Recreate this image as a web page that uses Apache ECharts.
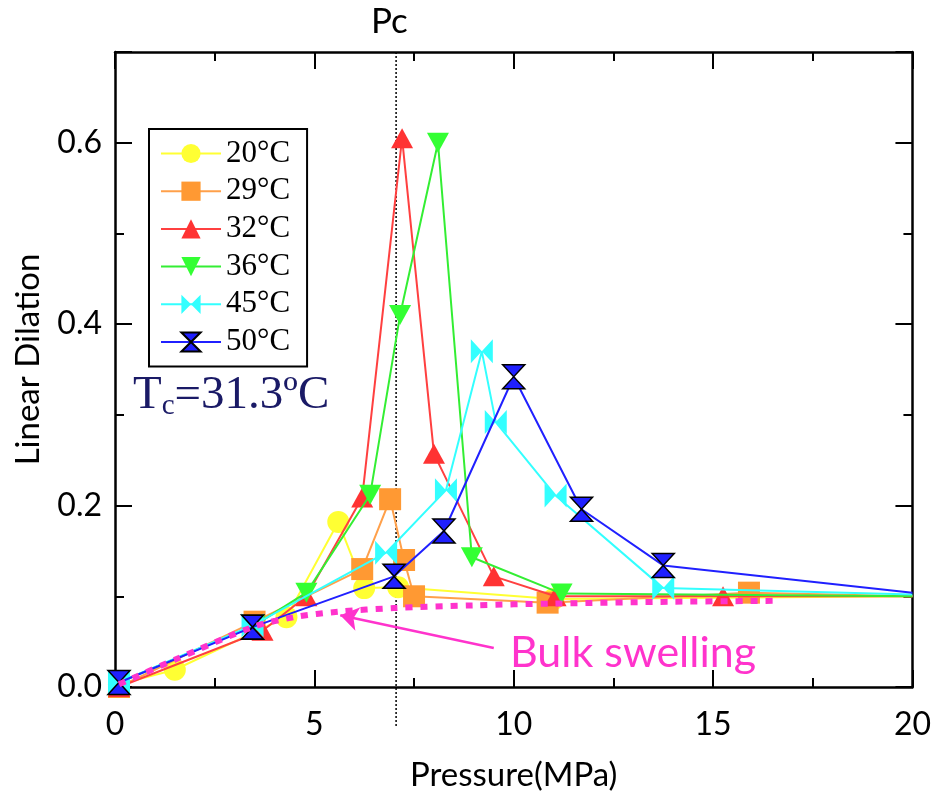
<!DOCTYPE html>
<html>
<head>
<meta charset="utf-8">
<script src="https://cdn.jsdelivr.net/npm/echarts@6/dist/echarts.min.js"></script>
<style>html,body{margin:0;padding:0;background:#fff}#c{width:934px;height:798px}</style>
</head>
<body>
<div id="c"></div>
<script>
// ---- data ----
const seriesNames = ['20°C', '29°C', '32°C', '36°C', '45°C', '50°C'];
const s20 = [[0.1,0.003],[1.5,0.019],[4.3,0.077],[5.6,0.182],[6.25,0.109],[7.1,0.11],[11,0.097],[20,0.1]];
const s29 = [[0.1,0.0],[3.5,0.072],[6.2,0.13],[6.9,0.207],[7.25,0.14],[7.5,0.1],[10.85,0.093],[15.9,0.104],[20,0.1]];
const s32 = [[0.1,0.0],[3.7,0.062],[4.8,0.1],[6.2,0.209],[7.2,0.605],[8.0,0.257],[9.5,0.122],[11.05,0.1],[15.25,0.1],[20,0.1]];
const s36 = [[0.1,0.005],[3.5,0.068],[4.8,0.104],[6.4,0.212],[7.15,0.41],[8.1,0.6],[8.95,0.143],[11.2,0.103],[20,0.1]];
const s45 = [[0.1,0.005],[3.45,0.068],[6.8,0.148],[8.3,0.217],[9.2,0.37],[9.55,0.292],[11.05,0.211],[13.75,0.109],[20,0.102]];
const s50 = [[0.1,0.005],[3.45,0.066],[7.0,0.122],[8.25,0.172],[10.0,0.342],[11.7,0.196],[13.75,0.134],[20,0.104]];
const bulk = [[0.1,0.003],[1.5,0.03],[3.45,0.066],[4.5,0.077],[5.6,0.083],[7,0.087],[9,0.09],[11,0.092],[14,0.094],[16.6,0.095]];
const pcLine = [[7.05,0.7],[7.05,-0.043]];
const arrowLine = [[9.5,0.043],[5.65,0.079]];
const xRange = [0, 20], xStep = 5;
const yRange = [0, 0.7], yStep = 0.2;
const labels = { pc: 'Pc', bulk: 'Bulk swelling', xName: 'Pressure(MPa)', yName: 'Linear Dilation' };

const colors = ['#ffff33', '#ff9933', '#ff3333', '#33ff33', '#33ffff', '#2020ff'];
const lineColors = ['#ffff33', '#ffa04a', '#ff4040', '#33ee33', '#33ffff', '#2020ff'];
const symbols = [
  'circle', 'rect', 'triangle',
  'path://M0,0L20,0L10,18Z',
  'path://M0,0L10,10L0,20ZM20,0L10,10L20,20Z',
  'path://M0,0L20,0L10,10ZM0,20L20,20L10,10Z'
];
const sizes = [22, 22, [22, 20], [22, 20], [22, 24], [22, 24]];
const datasets = [s20, s29, s32, s36, s45, s50];

const chart = echarts.init(document.getElementById('c'), null, { renderer: 'canvas' });
const series = datasets.map((d, i) => ({
  name: seriesNames[i], type: 'line',
  data: d.map(p => p[0] >= xRange[1] ? { value: p, symbol: 'none' } : p),
  symbol: symbols[i], symbolSize: sizes[i],
  lineStyle: { color: lineColors[i], width: 2 },
  itemStyle: i === 5 ? { color: colors[i], borderColor: '#000', borderWidth: 1.5 } : { color: colors[i] },
  z: 3 + i
}));
series.push({
  name: 'bulk', type: 'line', data: bulk, symbol: 'none', smooth: 0.3,
  lineStyle: { color: '#ff33cc', width: 6, type: [7, 8] }, z: 20
});
series.push({
  name: 'pc', type: 'line', data: pcLine, symbol: 'none', clip: false,
  lineStyle: { color: '#000', width: 1.5, type: [2, 2] }, z: 2
});
series.push({
  name: 'arrow', type: 'lines', coordinateSystem: 'cartesian2d',
  data: [{ coords: arrowLine }], symbol: ['none', 'arrow'], symbolSize: 18,
  lineStyle: { color: '#ff33cc', width: 2.5, opacity: 1 }, z: 21
});

function axisStyle() {
  return {
    axisLine: { show: true, onZero: false, lineStyle: { color: '#000', width: 2.5 } },
    axisTick: { show: true, inside: true, length: 17, lineStyle: { color: '#000', width: 2 } },
    minorTick: { show: true, splitNumber: 2, length: 9, lineStyle: { color: '#000', width: 2 } },
    splitLine: { show: false }
  };
}
const labelFont = { color: '#000', fontSize: 32, fontFamily: 'Lato' };

chart.setOption({
  animation: false,
  backgroundColor: '#fff',
  grid: { left: 115, top: 52, width: 799, height: 635 },
  legend: {
    data: seriesNames, orient: 'vertical', left: 149, top: 129,
    padding: [9, 17, 9, 11], itemWidth: 60, itemHeight: 24, itemGap: 6.7,
    borderColor: '#000', borderWidth: 2, backgroundColor: '#fff',
    textStyle: { fontFamily: 'Liberation Serif', fontSize: 31, lineHeight: 24, color: '#000' }
  },
  xAxis: [
    Object.assign({ type: 'value', min: xRange[0], max: xRange[1], interval: xStep, position: 'bottom',
      axisLabel: Object.assign({ margin: 22 }, labelFont),
      name: labels.xName, nameLocation: 'middle', nameGap: 72,
      nameTextStyle: { fontSize: 33, fontFamily: 'Lato', color: '#000' } }, axisStyle()),
    Object.assign({ type: 'value', min: xRange[0], max: xRange[1], interval: xStep, position: 'top',
      axisLabel: { show: false } }, axisStyle())
  ],
  yAxis: [
    Object.assign({ type: 'value', min: yRange[0], max: yRange[1], interval: yStep, position: 'left',
      axisLabel: Object.assign({ margin: 13, showMaxLabel: false, formatter: v => v.toFixed(1) }, labelFont),
      name: labels.yName, nameLocation: 'middle', nameGap: 70, nameRotate: 90,
      nameTextStyle: { fontSize: 33, fontFamily: 'Lato', color: '#000', padding: [0, 0, 0, 20] } }, axisStyle()),
    Object.assign({ type: 'value', min: yRange[0], max: yRange[1], interval: yStep, position: 'right',
      axisLabel: { show: false } }, axisStyle())
  ],
  graphic: [
    { type: 'text', left: 371, top: 4, style: { text: labels.pc, fontSize: 35, fontFamily: 'Lato', fill: '#000' } },
    { type: 'text', left: 510, top: 632, style: { text: labels.bulk, fontSize: 43, fontFamily: 'Lato', fill: '#ff33cc' } },
    { type: 'text', left: 133, top: 372, z: 100, style: {
        text: '{t|T}{s|c}{t|=31.3ºC}',
        rich: {
          t: { fontSize: 47, fontFamily: 'Liberation Serif', fill: '#1a1a66', color: '#1a1a66' },
          s: { fontSize: 29, fontFamily: 'Liberation Serif', fill: '#1a1a66', color: '#1a1a66', verticalAlign: 'bottom', padding: [22, 0, 0, 0] }
        }
      } }
  ],
  series: series
});
</script>
</body>
</html>
